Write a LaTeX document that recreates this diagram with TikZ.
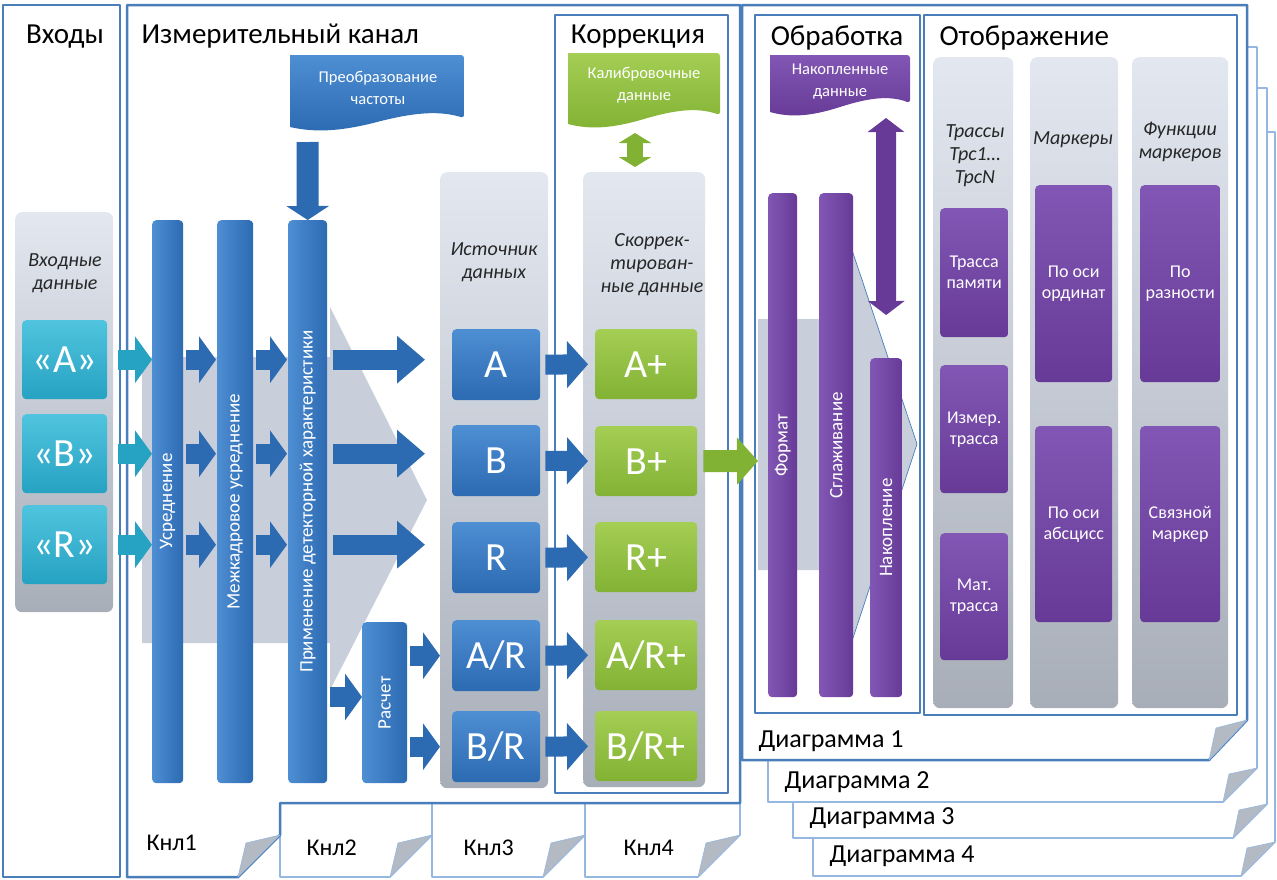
\documentclass[tikz,border=0pt]{standalone}
\usepackage{fontspec}
\setmainfont{Carlito}
\usetikzlibrary{arrows.meta}

\definecolor{frameblue}{RGB}{74,126,187}
\definecolor{sheetblue}{RGB}{150,184,224}
\definecolor{flapgray}{RGB}{180,186,196}
\definecolor{panellight}{RGB}{226,231,240}
\definecolor{paneldark}{RGB}{168,174,184}
\definecolor{chevgray}{RGB}{200,206,218}
\definecolor{topblue}{RGB}{78,142,210}
\definecolor{fillblue}{RGB}{44,106,178}
\definecolor{topteal}{RGB}{80,196,222}
\definecolor{fillteal}{RGB}{38,162,194}
\definecolor{topgreen}{RGB}{164,206,84}
\definecolor{fillgreen}{RGB}{130,178,52}
\definecolor{toppurple}{RGB}{130,86,180}
\definecolor{fillpurple}{RGB}{102,58,150}

\tikzset{
  zoneframe/.style={draw=frameblue,line width=2.5pt},
  sheet/.style={draw=sheetblue,fill=white,line width=1.6pt},
  flap/.style={draw=sheetblue,fill=flapgray,line width=.6pt},
  heading/.style={anchor=base,font=\fontsize{29}{33}\selectfont},
  sheetlabel/.style={anchor=west,font=\fontsize{24}{28}\selectfont},
  panel/.style={anchor=north west,inner sep=0pt,rounded corners=7pt,top color=panellight,bottom color=paneldark},
  paneltext/.style={align=center,text=black!85,font=\itshape\fontsize{20}{23}\selectfont},
  tile/.style={anchor=north west,inner sep=0pt,rounded corners=4pt,text=white,align=center},
  bluetile/.style={tile,top color=topblue,bottom color=fillblue},
  bluebar/.style={tile,left color=topblue,right color=fillblue},
  tealtile/.style={tile,top color=topteal,bottom color=fillteal},
  greentile/.style={tile,top color=topgreen,bottom color=fillgreen},
  purpletile/.style={tile,top color=toppurple,bottom color=fillpurple},
  purplebar/.style={tile,left color=toppurple,right color=fillpurple},
  bigtext/.style={font=\fontsize{40}{44}\selectfont},
  bartext/.style={text=white,rotate=90,font=\fontsize{19}{22}\selectfont},
  smalltext/.style={font=\fontsize{18}{21}\selectfont},
  doctext/.style={text=white,align=center,font=\fontsize{16.5}{22}\selectfont},
  flow/.style={draw=fillblue,line width=20pt,-{Triangle[length=17pt,width=46pt]}},
}

\begin{document}
\begin{tikzpicture}[x=1pt,y=-1pt,line join=round]
\useasboundingbox (0,0) rectangle (1277,879);

% sheets behind: diagrams 2..4
\foreach \xl/\yt/\xr/\yb/\n in {813/132/1275/876/4,793/88/1267/838/3,768/47/1257/802/2}{
  \draw[sheet] (\xl,\yt) -- (\xr,\yt) -- (\xr,\yb-34) -- (\xr-34,\yb) -- (\xl,\yb) -- cycle;
  \draw[flap] (\xr-34,\yb) -- (\xr,\yb-34) -- (\xr-28,\yb-28) -- cycle;
  \node[sheetlabel,font=\fontsize{26}{30}\selectfont] (dia\n) at (\xl+13,\yb-20) {Диаграмма \n};
}
% sheets behind: channels 2..4
\foreach \xl/\xr/\xt/\n in {280/432/303/2,432/585/460/3,585/740/620/4}{
  \draw[sheet] (\xl,803) -- (\xr,803) -- (\xr,835) -- (\xr-42,877) -- (\xl,877) -- cycle;
  \draw[flap] (\xr-42,877) -- (\xr,835) -- (\xr-34,843) -- cycle;
  \node[sheetlabel] (knl\n) at (\xt,848) {Кнл\n};
}

% front sheets and frames
\draw[zoneframe] (3,5) rectangle (120,877);
\draw[zoneframe,fill=white] (127,5) -- (740,5) -- (740,803) -- (280,803) -- (280,835) -- (238,877) -- (127,877) -- cycle;
\draw[flap] (238,877) -- (280,835) -- (246,843) -- cycle;
\node[sheetlabel] (knl1) at (143,843) {Кнл1};
\draw[zoneframe] (555,15) rectangle (728,793);
\draw[zoneframe,fill=white] (742,5) -- (1247,5) -- (1247,720) -- (1209,760) -- (742,760) -- cycle;
\draw[flap] (1209,760) -- (1247,720) -- (1216,728) -- cycle;
\node[sheetlabel,font=\fontsize{26}{30}\selectfont] (dia1) at (755,741) {Диаграмма 1};
\draw[zoneframe] (755,15) rectangle (920,713);
\draw[zoneframe] (924,15) rectangle (1237,715);

\node[heading] (hin) at (65,43) {Входы};
\node[heading,anchor=base west] (hmeas) at (138,43) {Измерительный канал};
\node[heading] (hcorr) at (638,43) {Коррекция};
\node[heading] (hproc) at (837,45) {Обработка};
\node[heading,anchor=base west] (hdisp) at (936,45) {Отображение};

% grey process arrows
\fill[chevgray] (142,357) -- (330,357) -- (330,307) -- (427,500) -- (330,690) -- (330,643) -- (142,643) -- cycle;
\fill[chevgray] (758,319) -- (852,319) -- (852,250) -- (917,444) -- (852,641) -- (852,570) -- (758,570) -- cycle;
\draw[frameblue,line width=.7pt] (852,250) -- (917,444) -- (852,641);

% panels
\node[panel,minimum width=98,minimum height=400] (inpanel) at (15,212) {};
\node[panel,minimum width=108,minimum height=616] (srcpanel) at (440,172) {};
\node[panel,minimum width=122,minimum height=615] (corpanel) at (583,172) {};
\node[panel,minimum width=80,minimum height=651] (trpanel) at (933,57) {};
\node[panel,minimum width=88,minimum height=651] (mkpanel) at (1030,57) {};
\node[panel,minimum width=96,minimum height=651] (fnpanel) at (1132,57) {};
\node[paneltext] (intxt) at (65,273) {Входные\\данные};
\node[paneltext] (srctxt) at (494,262) {Источник\\данных};
\node[paneltext] (cortxt) at (652,265) {Скоррек-\\тирован-\\ные данные};
\node[paneltext] (trtxt) at (975,156) {Трассы\\Трс1…\\ТрсN};
\node[paneltext] (mktxt) at (1073,140) {Маркеры};
\node[paneltext] (fntxt) at (1180,142) {Функции\\маркеров};

% documents
\foreach \xl/\yt/\xr/\yb/\col in {290/55/464/130/blue,568/53/720/127/green,770/55/910/115/purple}
  \path[top color=top\col,bottom color=fill\col,rounded corners=3pt] (\xl,\yt) -- (\xr,\yt) -- (\xr,\yb-12) [sharp corners]
    .. controls ({\xr-0.15*(\xr-\xl)},\yb-20) and ({\xr-0.3*(\xr-\xl)},\yb-17) .. ({(\xl+\xr)/2},\yb-8)
    .. controls ({\xl+0.3*(\xr-\xl)},\yb+1) and ({\xl+0.15*(\xr-\xl)},\yb+3) .. (\xl,\yb-3) -- cycle;
\node[doctext] (freq) at (378,88) {Преобразование\\частоты};
\node[doctext] (calib) at (644,85) {Калибровочные\\данные};
\node[doctext] (accdata) at (840,82) {Накопленные\\данные};

% inputs
\node[tealtile,bigtext,minimum width=85,minimum height=79] (inA) at (22,320) {«A»};
\node[tealtile,bigtext,minimum width=85,minimum height=79] (inB) at (22,414) {«B»};
\node[tealtile,bigtext,minimum width=85,minimum height=79] (inR) at (22,505) {«R»};

% measuring channel
\node[bluebar,minimum width=31,minimum height=563] (avg) at (152,220) {};
\node[bluebar,minimum width=36,minimum height=563] (imavg) at (217,220) {};
\node[bluebar,minimum width=39,minimum height=563] (det) at (288,220) {};
\node[bluebar,minimum width=45,minimum height=161] (calc) at (362,622) {};
\node[bartext] (avgtxt) at (avg) {Усреднение};
\node[bartext] (imavgtxt) at (imavg) {Межкадровое усреднение};
\node[bartext] (dettxt) at (det) {Применение детекторной характеристики};
\node[bartext] (calctxt) at (calc) {Расчет};

\node[bluetile,bigtext,minimum width=88,minimum height=71] (srcA) at (452,329) {A};
\node[bluetile,bigtext,minimum width=88,minimum height=71] (srcB) at (452,425) {B};
\node[bluetile,bigtext,minimum width=88,minimum height=71] (srcR) at (452,522) {R};
\node[bluetile,bigtext,minimum width=88,minimum height=71] (srcAR) at (452,620) {A/R};
\node[bluetile,bigtext,minimum width=88,minimum height=71] (srcBR) at (452,711) {B/R};

% correction
\node[greentile,bigtext,minimum width=102,minimum height=70] (corA) at (595,329) {A+};
\node[greentile,bigtext,minimum width=102,minimum height=70] (corB) at (595,426) {B+};
\node[greentile,bigtext,minimum width=102,minimum height=70] (corR) at (595,522) {R+};
\node[greentile,bigtext,minimum width=102,minimum height=70] (corAR) at (595,620) {A/R+};
\node[greentile,bigtext,minimum width=102,minimum height=70] (corBR) at (595,711) {B/R+};

% processing
\node[purplebar,minimum width=29,minimum height=504] (fmt) at (768,193) {};
\node[purplebar,minimum width=34,minimum height=504] (smooth) at (819,193) {};
\node[purplebar,minimum width=32,minimum height=339] (accum) at (870,358) {};
\node[bartext] (fmttxt) at (fmt) {Формат};
\node[bartext] (smoothtxt) at (smooth) {Сглаживание};
\node[bartext] (accumtxt) at (accum) {Накопление};

% display
\node[purpletile,smalltext,minimum width=68,minimum height=129] (mem) at (940,208) {Трасса\\памяти};
\node[purpletile,smalltext,minimum width=68,minimum height=128] (meas) at (940,365) {Измер.\\трасса};
\node[purpletile,smalltext,minimum width=68,minimum height=127] (math) at (940,533) {Мат.\\трасса};
\node[purpletile,smalltext,minimum width=77,minimum height=197] (ord) at (1035,185) {По оси\\ординат};
\node[purpletile,smalltext,minimum width=77,minimum height=196] (absc) at (1035,426) {По оси\\абсцисс};
\node[purpletile,smalltext,minimum width=80,minimum height=197] (diff) at (1140,185) {По\\разности};
\node[purpletile,smalltext,minimum width=80,minimum height=196] (link) at (1140,426) {Связной\\маркер};

% flows
\foreach \r in {A,B,R}{
  \draw[flow,draw=fillteal,shorten <=11pt] (in\r.east) -- (avg.west |- in\r.east);
  \draw[flow,shorten <=3pt,shorten >=1pt] (avg.east |- in\r.east) -- (imavg.west |- in\r.east);
  \draw[flow,shorten <=3pt,shorten >=1pt] (imavg.east |- in\r.east) -- (det.west |- in\r.east);
  \draw[flow,-{Triangle[length=28pt,width=46pt]},shorten <=6pt,shorten >=27pt] (det.east |- in\r.east) -- (src\r.west |- in\r.east);
}
\foreach \r in {A,B,R,AR,BR}
  \draw[flow,-{Triangle[length=21pt,width=46pt]},shorten <=5pt,shorten >=7pt] (src\r.east) -- (cor\r.west);
\draw[flow,shorten <=3pt] (det.east |- 0,697) -- (calc.west |- 0,697);
\draw[flow,shorten <=3pt,shorten >=12pt] (calc.east |- srcAR) -- (srcAR.west);
\draw[flow,shorten <=3pt,shorten >=12pt] (calc.east |- srcBR) -- (srcBR.west);

\coordinate (freqfoot) at (307.5,142);
\draw[flow,line width=22pt,-{Triangle[length=14pt,width=42pt]}] (freqfoot) -- (det.north);
\coordinate (calibfoot) at (635,133);
\draw[flow,draw=fillgreen,line width=16pt,{Triangle[length=10pt,width=32pt]}-{Triangle[length=10pt,width=32pt]},shorten >=5pt] (calibfoot) -- (corpanel.north -| calibfoot);
\coordinate (accfoot) at (886,118);
\draw[flow,draw=fillpurple,line width=20pt,{Triangle[length=14pt,width=36pt]}-{Triangle[length=14pt,width=36pt]},shorten >=43pt] (accfoot) -- (accum.north);
\coordinate (procin) at (758,461);
\draw[flow,draw=fillgreen,line width=22pt,-{Triangle[length=21pt,width=46pt]},shorten <=6pt] (corB.east) -- (procin);
\end{tikzpicture}
\end{document}
